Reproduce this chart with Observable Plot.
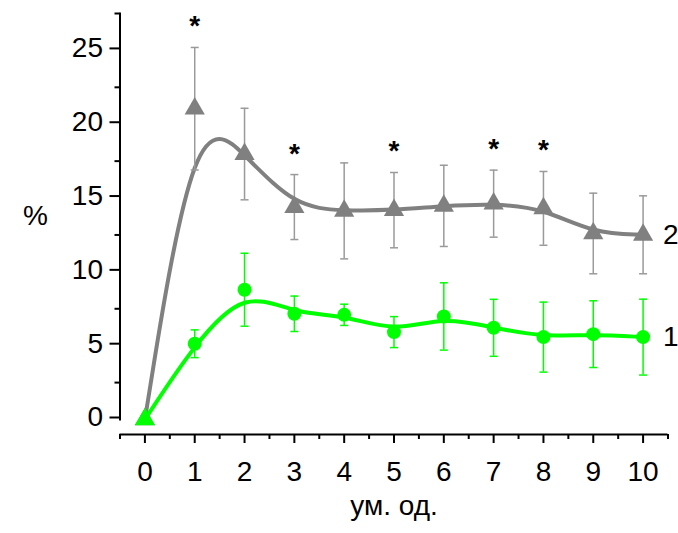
<!DOCTYPE html>
<html>
<head>
<meta charset="utf-8">
<script src="https://cdn.jsdelivr.net/npm/d3@7"></script>
<script src="https://cdn.jsdelivr.net/npm/@observablehq/plot@0.6"></script>
<style>
  html, body { margin: 0; padding: 0; background: #fff; }
  #chart { width: 678px; height: 533px; }
</style>
</head>
<body>
<div id="chart"></div>
<script>
// ---- data ----
const xValues = [0, 1, 2, 3, 4, 5, 6, 7, 8, 9, 10];
const series1Mean = [0, 5.13, 8.79, 7.16, 7.09, 5.92, 6.98, 6.21, 5.58, 5.78, 5.58];
const series1Err  = [0, 0.94, 2.47, 1.20, 0.72, 1.05, 2.28, 1.93, 2.37, 2.26, 2.57];
const series2Mean = [0, 21.05, 17.98, 14.39, 14.13, 14.18, 14.47, 14.62, 14.30, 12.60, 12.51];
const series2Err  = [0, 4.15, 3.10, 2.20, 3.25, 2.55, 2.75, 2.27, 2.50, 2.73, 2.64];
const significantX = [1, 3, 5, 7, 8];
const seriesNames = ["1", "2"];
const xTicks = [0, 1, 2, 3, 4, 5, 6, 7, 8, 9, 10];
const xMinorTicks = [-0.5, 0.5, 1.5, 2.5, 3.5, 4.5, 5.5, 6.5, 7.5, 8.5, 9.5, 10.5];
const yTicks = [0, 5, 10, 15, 20, 25];
const yMinorTicks = [2.5, 7.5, 12.5, 17.5, 22.5, 27.5];
const xLabel = "ум. од.";
const yLabel = "%";

const green = "#00ff00";
const grey = "#808080";
const greyBar = "#9a9a9a";

const rows1 = xValues.map((x, i) => ({x, m: series1Mean[i], lo: series1Mean[i] - series1Err[i], hi: series1Mean[i] + series1Err[i]}));
const rows2 = xValues.map((x, i) => ({x, m: series2Mean[i], lo: series2Mean[i] - series2Err[i], hi: series2Mean[i] + series2Err[i]}));
const stars = rows2.filter(d => significantX.includes(d.x));
const endLabels = [
  {name: seriesNames[0], ...rows1[rows1.length - 1]},
  {name: seriesNames[1], ...rows2[rows2.length - 1]}
];

// horizontal cap symbol for error bars
const cap = {
  draw(ctx, size) {
    const w = Math.sqrt(size / Math.PI);
    ctx.moveTo(-w, 0);
    ctx.lineTo(w, 0);
  }
};

const errorBars = (rows, color) => [
  Plot.ruleX(rows.filter(d => d.hi > d.lo), {x: "x", y1: "lo", y2: "hi", stroke: color, strokeWidth: 1.5}),
  Plot.dot(rows.filter(d => d.hi > d.lo), {x: "x", y: "hi", symbol: cap, r: 4, stroke: color, strokeWidth: 1.5, fill: "none"}),
  Plot.dot(rows.filter(d => d.hi > d.lo), {x: "x", y: "lo", symbol: cap, r: 4, stroke: color, strokeWidth: 1.5, fill: "none"})
];

const chart = Plot.plot({
  width: 678,
  height: 533,
  marginLeft: 119.5,
  marginRight: 10.5,
  marginTop: 13,
  marginBottom: 114,
  style: {fontFamily: "'Liberation Sans', Arial, sans-serif", fontSize: "28px", color: "#000", background: "#fff"},
  x: {domain: [-0.5, 10.5]},
  y: {domain: [0, 27.5]},
  marks: [
    // axes
    Plot.frame({anchor: "left", strokeWidth: 2}),
    Plot.ruleY([0], {dy: 15, strokeWidth: 2}),
    Plot.axisY(yTicks, {tickSize: 10, tickPadding: 7, strokeWidth: 2, dy: -2, label: null}),
    Plot.axisY(yMinorTicks, {tickSize: 5, strokeWidth: 2, text: null, label: null}),
    Plot.axisX(xTicks, {tickSize: 9, tickPadding: 18, strokeWidth: 2, dy: 15, label: null}),
    Plot.axisX(xMinorTicks, {tickSize: 5, strokeWidth: 2, text: null, dy: 15, label: null}),
    Plot.text([yLabel], {frameAnchor: "left", dx: -97, text: d => d}),
    Plot.text([xLabel], {frameAnchor: "bottom", dy: 95, text: d => d}),

    // series 2 (grey)
    Plot.line(rows2, {x: "x", y: "m", curve: "basis", stroke: grey, strokeWidth: 4}),
    ...errorBars(rows2, greyBar),
    Plot.dot(rows2, {x: "x", y: "m", symbol: "triangle", r: 7.5, fill: grey}),

    // series 1 (green)
    Plot.line(rows1, {x: "x", y: "m", curve: "basis", stroke: green, strokeWidth: 4}),
    ...errorBars(rows1, green),
    Plot.dot(rows1.filter(d => d.x > 0), {x: "x", y: "m", r: 7, fill: green}),
    Plot.dot(rows1.filter(d => d.x === 0), {x: "x", y: "m", symbol: "triangle", r: 7.5, fill: green}),

    // significance marks
    Plot.text(stars, {x: "x", y: "hi", text: () => "*", dy: -21, fontWeight: "bold", fill: "#000"}),

    // series labels
    Plot.text(endLabels, {x: "x", y: "m", text: "name", textAnchor: "start", dx: 20, fill: "#000"})
  ]
});

document.getElementById("chart").appendChild(chart);
</script>
</body>
</html>
